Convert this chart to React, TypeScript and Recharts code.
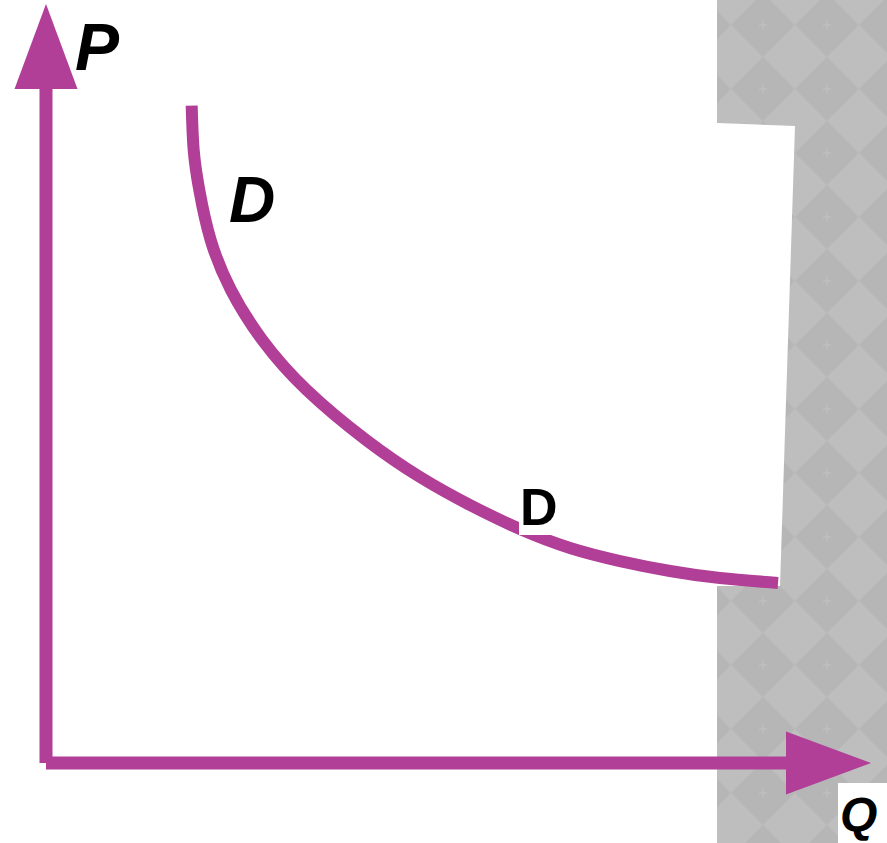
import React from "react";
import { LineChart, Line, XAxis, YAxis, ReferenceLine } from "recharts";

// 수요곡선 D (Q: 수량, P: 가격) — 값은 그림에서 읽은 추정치
const Q_VALUES = [1.766, 1.79, 1.858, 1.996, 2.242, 2.622, 3.16, 3.88, 4.533, 5.139, 5.745, 6.352, 6.958, 7.564, 8.17, 8.873];
const P_VALUES = [8.66, 8.076, 7.549, 6.891, 6.232, 5.573, 4.914, 4.256, 3.768, 3.399, 3.083, 2.833, 2.661, 2.53, 2.437, 2.372];
const AXIS_MAX = 10;

const DEMAND = Q_VALUES.map((q, i) => ({ q, p: P_VALUES[i] }));

const MAGENTA = "#b13e97";
const W = 887;
const H = 843;

// 축 화살표: 선 + 삼각형 머리
function Arrow(props: any) {
  const { x1, y1, x2, y2 } = props;
  const len = Math.hypot(x2 - x1, y2 - y1) || 1;
  const ux = (x2 - x1) / len;
  const uy = (y2 - y1) / len;
  const head = 85;
  const half = 31.5;
  const bx = x2 - ux * head;
  const by = y2 - uy * head;
  const px = -uy;
  const py = ux;
  return (
    <g>
      <line x1={x1} y1={y1} x2={bx + ux} y2={by + uy} stroke={MAGENTA} strokeWidth={13} />
      <polygon
        points={`${x2},${y2} ${bx + px * half},${by + py * half} ${bx - px * half},${by - py * half}`}
        fill={MAGENTA}
      />
    </g>
  );
}

const LABEL_FONT = "'Liberation Sans', Arial, sans-serif";

export default function App() {
  return (
    <div style={{ position: "absolute", left: 0, top: 0, width: W, height: H, background: "#fff", overflow: "hidden" }}>
      {/* 오른쪽 회색 체크 배경 */}
      <svg width={W} height={H} style={{ position: "absolute", left: 0, top: 0 }}>
        <defs>
          <pattern id="checker" x={731} y={-7} width={64} height={64} patternUnits="userSpaceOnUse">
            <rect width={64} height={64} fill="#bebebe" />
            <polygon points="32,0 64,32 32,64 0,32" fill="#b6b6b6" />
            <path d="M28 32h8M32 28v8" stroke="#c3c3c3" strokeWidth={1} />
          </pattern>
        </defs>
        <rect x={717} y={0} width={170} height={H} fill="url(#checker)" />
        <polygon points="717,123 795,126 780,586 717,586" fill="#fff" />
        <rect x={838} y={783} width={49} height={60} fill="#fff" />
      </svg>

      <div style={{ position: "absolute", left: 0, top: 0 }}>
        <LineChart width={W} height={H} data={DEMAND} margin={{ top: 4, right: 16, bottom: 80, left: 46 }}>
          <XAxis type="number" dataKey="q" domain={[0, AXIS_MAX]} hide />
          <YAxis type="number" domain={[0, AXIS_MAX]} hide />
          <ReferenceLine
            segment={[{ x: 0, y: 0 }, { x: 0, y: AXIS_MAX }]}
            ifOverflow="visible"
            shape={Arrow}
          />
          <ReferenceLine
            segment={[{ x: 0, y: 0 }, { x: AXIS_MAX, y: 0 }]}
            ifOverflow="visible"
            shape={Arrow}
          />
          <Line
            type="natural"
            dataKey="p"
            stroke={MAGENTA}
            strokeWidth={12}
            dot={false}
            activeDot={false}
            isAnimationActive={false}
          />
        </LineChart>
      </div>

      {/* 라벨 */}
      <svg width={W} height={H} style={{ position: "absolute", left: 0, top: 0, pointerEvents: "none" }}>
        <text x={75} y={70} fontFamily={LABEL_FONT} fontWeight="bold" fontStyle="italic" fontSize={66} fill="#000">
          P
        </text>
        <text x={229} y={222} fontFamily={LABEL_FONT} fontWeight="bold" fontStyle="italic" fontSize={64} fill="#000">
          D
        </text>
        <rect x={519} y={482} width={34} height={53} fill="#fff" />
        <text x={520} y={525} fontFamily={LABEL_FONT} fontWeight="bold" fontSize={52} fill="#000">
          D
        </text>
        <text x={840} y={831} fontFamily={LABEL_FONT} fontWeight="bold" fontStyle="italic" fontSize={48} fill="#000">
          Q
        </text>
      </svg>
    </div>
  );
}
